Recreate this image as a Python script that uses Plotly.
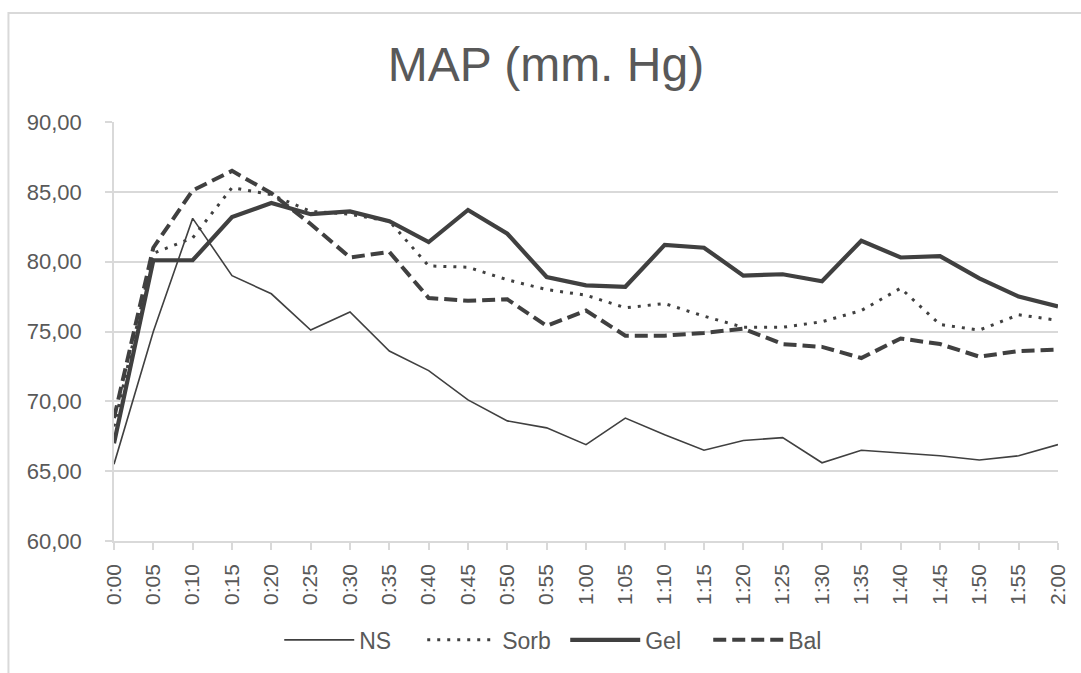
import plotly.graph_objects as go

# Time points (h:mm)
times = ["0:00", "0:05", "0:10", "0:15", "0:20", "0:25", "0:30", "0:35", "0:40",
         "0:45", "0:50", "0:55", "1:00", "1:05", "1:10", "1:15", "1:20", "1:25",
         "1:30", "1:35", "1:40", "1:45", "1:50", "1:55", "2:00"]

# Mean arterial pressure per group (mm Hg)
ns = [65.5, 75.0, 83.1, 79.0, 77.7, 75.1, 76.4, 73.6, 72.2, 70.1, 68.6, 68.1, 66.9,
      68.8, 67.6, 66.5, 67.2, 67.4, 65.6, 66.5, 66.3, 66.1, 65.8, 66.1, 66.9]
sorb = [68.2, 80.6, 81.7, 85.3, 84.8, 83.6, 83.4, 82.9, 79.7, 79.6, 78.7, 78.0, 77.6,
        76.7, 77.0, 76.1, 75.3, 75.3, 75.7, 76.5, 78.1, 75.5, 75.1, 76.2, 75.8]
gel = [67.0, 80.1, 80.1, 83.2, 84.2, 83.4, 83.6, 82.9, 81.4, 83.7, 82.0, 78.9, 78.3,
       78.2, 81.2, 81.0, 79.0, 79.1, 78.6, 81.5, 80.3, 80.4, 78.8, 77.5, 76.8]
bal = [68.8, 81.0, 85.1, 86.5, 84.9, 82.7, 80.3, 80.7, 77.4, 77.2, 77.3, 75.4, 76.5,
       74.7, 74.7, 74.9, 75.2, 74.1, 73.9, 73.1, 74.5, 74.1, 73.2, 73.6, 73.7]

y_ticks = [60, 65, 70, 75, 80, 85, 90]
y_tick_text = ["60,00", "65,00", "70,00", "75,00", "80,00", "85,00", "90,00"]

LINE = "#404040"
TEXT = "#595959"
GRID = "#d9d9d9"
FONT = "Liberation Sans, Arial, sans-serif"

series = [
    ("NS", ns, dict(color=LINE, width=1.6)),
    ("Sorb", sorb, dict(color=LINE, width=3, dash="3px,7px")),
    ("Gel", gel, dict(color=LINE, width=4.2)),
    ("Bal", bal, dict(color=LINE, width=4, dash="13px,6px")),
]

fig = go.Figure()
for name, vals, line in series:
    fig.add_trace(go.Scatter(x=times, y=vals, name=name, mode="lines", line=line))

fig.update_layout(
    width=1081,
    height=673,
    margin=dict(l=114, r=19, t=122, b=132),
    paper_bgcolor="white",
    plot_bgcolor="white",
    font=dict(family=FONT, color=TEXT, size=22),
    title=dict(text="MAP (mm. Hg)", x=0.505, xanchor="center", y=0.905, yanchor="middle",
               font=dict(size=48, color=TEXT, family=FONT)),
    showlegend=True,
    legend=dict(orientation="h", x=0.478, xanchor="center", y=-0.236, yanchor="middle",
                font=dict(size=23, color=TEXT), itemwidth=70,
                entrywidth=58, entrywidthmode="pixels",
                bgcolor="rgba(0,0,0,0)"),
    xaxis=dict(
        type="category",
        range=[0, len(times) - 1],
        showgrid=False,
        showline=True, linecolor=GRID, linewidth=1.5,
        ticks="outside", ticklen=7, tickcolor=GRID, tickwidth=1.5,
        tickangle=-90,
        tickfont=dict(size=21, color=TEXT),
        ticklabelstandoff=6,
    ),
    yaxis=dict(
        range=[60, 90],
        tickvals=y_ticks,
        ticktext=y_tick_text,
        showgrid=True, gridcolor=GRID, gridwidth=1.5,
        showline=True, linecolor=GRID, linewidth=1.5,
        ticks="outside", ticklen=7, tickcolor=GRID, tickwidth=1.5,
        zeroline=False,
        tickfont=dict(size=22, color=TEXT),
        ticklabelstandoff=19,
    ),
    shapes=[dict(type="rect", xref="paper", yref="paper",
                 x0=(8 - 114) / 948, x1=(1090 - 114) / 948,
                 y0=(541 - 690) / 419, y1=(541 - 13) / 419,
                 line=dict(color=GRID, width=2), fillcolor="rgba(0,0,0,0)", layer="below")],
)

fig.write_html("out.html")
